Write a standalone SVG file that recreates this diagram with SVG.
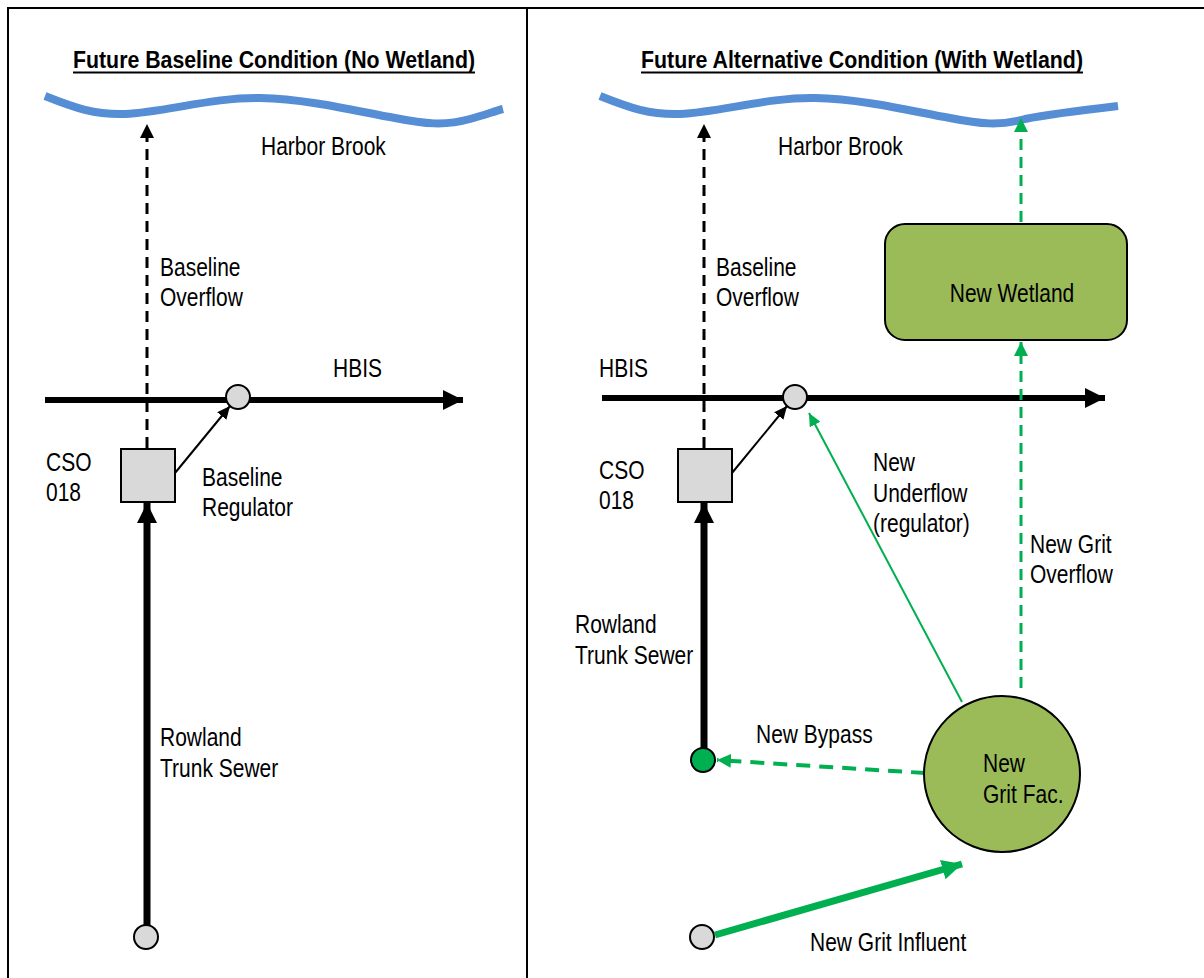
<svg xmlns="http://www.w3.org/2000/svg" width="1204" height="978" viewBox="0 0 1204 978">
<style>
.t{font-family:"Liberation Sans",Arial,sans-serif;font-size:25px;fill:#000}
.title{font-family:"Liberation Sans",Arial,sans-serif;font-size:24px;font-weight:bold;fill:#000}
.river{fill:none;stroke:#558ED5;stroke-width:8}
.node{fill:#D9D9D9;stroke:#000;stroke-width:2}
.frame{stroke:#000;stroke-width:2;fill:none}
</style>
<defs>
<marker id="aBig" markerUnits="userSpaceOnUse" markerWidth="22" markerHeight="22" refX="20" refY="10" orient="auto"><path d="M0,0 L20,10 L0,20 z" fill="#000"/></marker>
<marker id="aMed" markerUnits="userSpaceOnUse" markerWidth="16" markerHeight="16" refX="14" refY="7" orient="auto"><path d="M0,0 L14,7 L0,14 z" fill="#000"/></marker>
<marker id="aThin" markerUnits="userSpaceOnUse" markerWidth="14" markerHeight="14" refX="13" refY="6" orient="auto"><path d="M0,0 L13,6 L0,12 z" fill="#000"/></marker>
<marker id="gMed" markerUnits="userSpaceOnUse" markerWidth="16" markerHeight="16" refX="14" refY="7" orient="auto"><path d="M0,0 L14,7 L0,14 z" fill="#00B050"/></marker>
<marker id="gThin" markerUnits="userSpaceOnUse" markerWidth="14" markerHeight="14" refX="13" refY="6" orient="auto"><path d="M0,0 L13,6 L0,12 z" fill="#00B050"/></marker>
<marker id="gBig" markerUnits="userSpaceOnUse" markerWidth="22" markerHeight="22" refX="20" refY="10" orient="auto"><path d="M0,0 L20,10 L0,20 z" fill="#00B050"/></marker>
</defs>

<g id="frame">
<line class="frame" x1="7" y1="8" x2="1204" y2="8"/>
<line class="frame" x1="8" y1="7" x2="8" y2="978"/>
<line class="frame" x1="527" y1="8" x2="527" y2="978"/>
</g>

<!-- Left panel -->
<g id="title-left">
<text class="title" x="73" y="68" textLength="402" lengthAdjust="spacingAndGlyphs">Future Baseline Condition (No Wetland)</text>
<line x1="73" y1="72.5" x2="475" y2="72.5" stroke="#000" stroke-width="2"/>
</g>
<g id="river-left">
<path class="river" d="M45,96 C75,108 95,115 125,114 C165,112 215,97 260,98 C310,99 360,112 395,118 C425,124 445,126 470,119 C485,115 495,111 503,109"/>
<text class="t" transform="translate(261,155) scale(0.84,1)">Harbor Brook</text>
</g>

<g id="connectors-left">
<line x1="147" y1="448" x2="147" y2="124" stroke="#000" stroke-width="3" stroke-dasharray="11,7" marker-end="url(#aMed)"/>
<line x1="45" y1="400" x2="463" y2="400" stroke="#000" stroke-width="6" marker-end="url(#aBig)"/>
<line x1="175" y1="473" x2="230" y2="406" stroke="#000" stroke-width="2" marker-end="url(#aThin)"/>
<line x1="147" y1="926" x2="147" y2="503" stroke="#000" stroke-width="7" marker-end="url(#aBig)"/>
</g>

<g id="labels-left">
<text class="t" transform="translate(160,276) scale(0.84,1)">Baseline</text>
<text class="t" transform="translate(160,306) scale(0.84,1)">Overflow</text>
<text class="t" transform="translate(333,377) scale(0.84,1)">HBIS</text>
<text class="t" transform="translate(46,471) scale(0.84,1)">CSO</text>
<text class="t" transform="translate(46,501) scale(0.84,1)">018</text>
<text class="t" transform="translate(202,486) scale(0.84,1)">Baseline</text>
<text class="t" transform="translate(202,516) scale(0.84,1)">Regulator</text>
<text class="t" transform="translate(160,746) scale(0.84,1)">Rowland</text>
<text class="t" transform="translate(160,777) scale(0.84,1)">Trunk Sewer</text>
</g>

<g id="hbis-junction-left"><circle class="node" cx="238" cy="397" r="12"/></g>
<g id="cso018-left"><rect class="node" x="121" y="449" width="54" height="53"/></g>
<g id="source-left"><circle class="node" cx="146" cy="937" r="12"/></g>

<!-- Right panel -->
<g id="title-right">
<text class="title" x="641" y="68" textLength="442" lengthAdjust="spacingAndGlyphs">Future Alternative Condition (With Wetland)</text>
<line x1="641" y1="72.5" x2="1083" y2="72.5" stroke="#000" stroke-width="2"/>
</g>
<g id="river-right">
<path class="river" d="M600,96 C630,108 650,115 680,114 C720,112 770,97 815,98 C865,99 915,112 950,118 C980,124 1000,126 1025,119 C1045,115 1075,111 1118,106"/>
<text class="t" transform="translate(778,155) scale(0.84,1)">Harbor Brook</text>
</g>

<g id="connectors-right">
<line x1="704" y1="448" x2="704" y2="124" stroke="#000" stroke-width="3" stroke-dasharray="11,7" marker-end="url(#aMed)"/>
<line x1="602" y1="398" x2="1105" y2="398" stroke="#000" stroke-width="6" marker-end="url(#aBig)"/>
<line x1="732" y1="473" x2="787" y2="406" stroke="#000" stroke-width="2" marker-end="url(#aThin)"/>
<line x1="704" y1="748" x2="704" y2="503" stroke="#000" stroke-width="7" marker-end="url(#aBig)"/>
<line x1="1021" y1="222" x2="1021" y2="118" stroke="#00B050" stroke-width="3" stroke-dasharray="11,7" marker-end="url(#gMed)"/>
<line x1="1021" y1="688" x2="1021" y2="342" stroke="#00B050" stroke-width="3" stroke-dasharray="11,7" marker-end="url(#gMed)"/>
<line x1="962" y1="702" x2="809" y2="413" stroke="#00B050" stroke-width="2" marker-end="url(#gThin)"/>
<line x1="925" y1="773" x2="717" y2="760" stroke="#00B050" stroke-width="4" stroke-dasharray="14,9" marker-end="url(#gMed)"/>
<line x1="715" y1="935" x2="962" y2="864" stroke="#00B050" stroke-width="7" marker-end="url(#gBig)"/>
</g>

<g id="labels-right">
<text class="t" transform="translate(716,276) scale(0.84,1)">Baseline</text>
<text class="t" transform="translate(716,306) scale(0.84,1)">Overflow</text>
<text class="t" transform="translate(599,377) scale(0.84,1)">HBIS</text>
<text class="t" transform="translate(599,479) scale(0.84,1)">CSO</text>
<text class="t" transform="translate(599,509) scale(0.84,1)">018</text>
<text class="t" transform="translate(575,633) scale(0.84,1)">Rowland</text>
<text class="t" transform="translate(575,664) scale(0.84,1)">Trunk Sewer</text>
<text class="t" transform="translate(873,471) scale(0.84,1)">New</text>
<text class="t" transform="translate(873,502) scale(0.84,1)">Underflow</text>
<text class="t" transform="translate(873,532) scale(0.84,1)">(regulator)</text>
<text class="t" transform="translate(1030,553) scale(0.84,1)">New Grit</text>
<text class="t" transform="translate(1030,583) scale(0.84,1)">Overflow</text>
<text class="t" transform="translate(756,743) scale(0.84,1)">New Bypass</text>
<text class="t" transform="translate(810,951) scale(0.84,1)">New Grit Influent</text>
</g>

<g id="new-wetland">
<rect x="885" y="224" width="242" height="116" rx="20" ry="20" fill="#9BBB59" stroke="#000" stroke-width="2"/>
<text class="t" text-anchor="middle" transform="translate(1012,302) scale(0.84,1)">New Wetland</text>
</g>
<g id="new-grit-facility">
<circle cx="1002" cy="774" r="78" fill="#9BBB59" stroke="#000" stroke-width="2"/>
<text class="t" transform="translate(983,772) scale(0.84,1)">New</text>
<text class="t" transform="translate(983,803) scale(0.84,1)">Grit Fac.</text>
</g>
<g id="hbis-junction-right"><circle class="node" cx="795" cy="397" r="12"/></g>
<g id="cso018-right"><rect class="node" x="678" y="449" width="54" height="53"/></g>
<g id="bypass-node"><circle cx="703" cy="760" r="12" fill="#00B050" stroke="#000" stroke-width="2"/></g>
<g id="source-right"><circle class="node" cx="702" cy="937" r="12"/></g>
</svg>
